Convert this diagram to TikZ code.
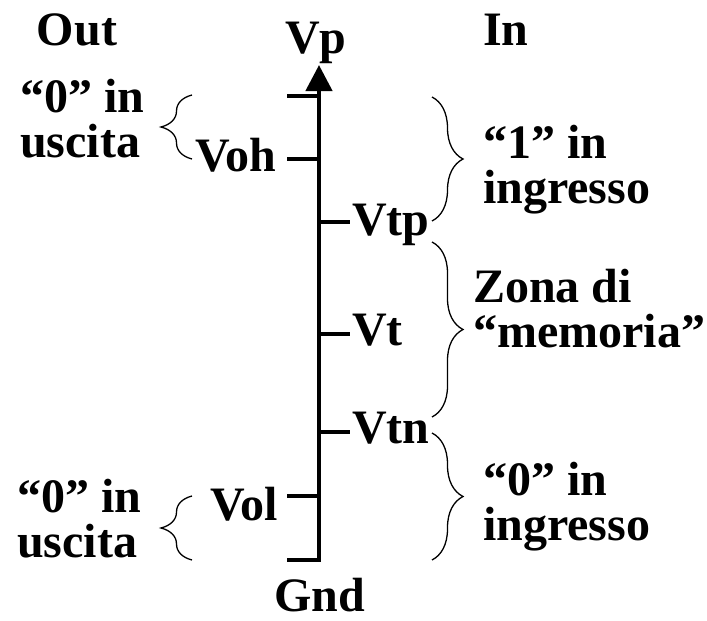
\documentclass[tikz,border=0pt]{standalone}
\usepackage{fontspec}
\setmainfont{Liberation Serif}
\usetikzlibrary{arrows.meta,decorations.pathreplacing}

\begin{document}
\begin{tikzpicture}[x=1pt, y=-1pt, font=\fontsize{48}{45}\selectfont\bfseries,
		lbl/.style={inner sep=0pt, anchor=base west, align=left},
		ttl/.style={inner sep=0pt, anchor=base},
		tick/.style={line width=4pt},
		brc/.style={decorate, decoration={brace, amplitude=31pt}, line width=1.3pt}]
	\useasboundingbox (0,0) rectangle (707,621);
	% asse
	\coordinate (gnd) at (319,560);
	\coordinate (vp) at (319,65);
	\draw[tick, line width=4.5pt, -{Triangle[length=26pt,width=26pt]}] (287,560) -- (gnd) -- (vp);
	% tacche
	\foreach \n/\y in {top/96, voh/159, vol/496} \draw[tick] (287,\y) -- (319,\y) coordinate (t-\n);
	\foreach \n/\y in {vtp/222, vt/334, vtn/432} \draw[tick] (319,\y) -- (350,\y) coordinate (t-\n);
	% titoli
	\node[ttl] (out) at (77,45) {Out};
	\node[ttl] (in) at (506,45) {In};
	\node[ttl] (lvp) at (316,53) {Vp};
	\node[ttl] (lgnd) at (320,611) {Gnd};
	% etichette tensioni
	\node[lbl] (lvoh) at (195,171) {Voh};
	\node[lbl] (lvol) at (210,520) {Vol};
	\node[lbl] (lvtp) at (352,235) {Vtp};
	\node[lbl] (lvt) at (352,345) {Vt};
	\node[lbl] (lvtn) at (352,443) {Vtn};
	% zone (base = ultima riga)
	\node[lbl] (ohi) at (20,157) {“0” in\\uscita};
	\node[lbl] (olo) at (17,557) {“0” in\\uscita};
	\node[lbl] (ihi) at (483,203) {“1” in\\ingresso};
	\node[lbl] (imem) at (473,347) {Zona di\\“memoria”};
	\node[lbl] (ilo) at (483,540) {“0” in\\ingresso};
	% graffe
	\draw[brc] (192,159) -- (192,95);
	\draw[brc] (192,560) -- (192,496);
	\draw[brc] (432,97) -- (432,221);
	\draw[brc] (432,242) -- (432,417);
	\draw[brc] (432,433) -- (432,560);
\end{tikzpicture}
\end{document}
